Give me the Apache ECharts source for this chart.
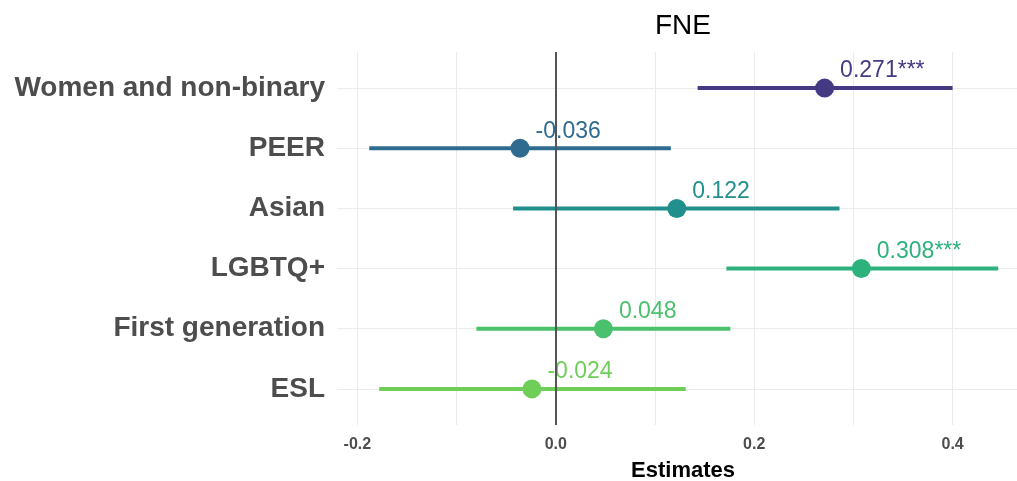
<!DOCTYPE html>
<html>
<head>
<meta charset="utf-8">
<script src="https://cdn.jsdelivr.net/npm/echarts@6/dist/echarts.min.js"></script>
<style>
html,body{margin:0;padding:0;background:#fff;}
#chart{width:1017px;height:481px;}
</style>
</head>
<body>
<div id="chart"></div>
<script>
// Categories from bottom (position 1) to top (position 6)
const categories = ['ESL', 'First generation', 'LGBTQ+', 'Asian', 'PEER', 'Women and non-binary'];
const estimates  = [-0.024, 0.048, 0.308, 0.122, -0.036, 0.271];
const ciLow      = [-0.178, -0.080, 0.172, -0.043, -0.188, 0.143];
const ciHigh     = [0.131, 0.176, 0.446, 0.286, 0.116, 0.400];
const stars      = ['', '', '***', '', '', '***'];
const colors     = ['#6ece58', '#4ac16d', '#2db27d', '#21908d', '#2f6b8e', '#443a83'];
const xTicks     = [-0.2, -0.1, 0, 0.1, 0.2, 0.3, 0.4];
const xLabels    = [-0.2, 0, 0.2, 0.4];
const yPositions = [1, 2, 3, 4, 5, 6];

const FONT = '"Liberation Sans", Arial, sans-serif';
const chart = echarts.init(document.getElementById('chart'), null, {renderer: 'canvas'});

const barData = categories.map((c, i) => ({value: [ciLow[i], ciHigh[i], yPositions[i]], itemStyle: {color: colors[i]}}));
const dotData = categories.map((c, i) => ({
  value: [estimates[i], yPositions[i]],
  itemStyle: {color: colors[i], opacity: 1},
  label: {color: colors[i], formatter: estimates[i].toFixed(3) + stars[i]}
}));

chart.setOption({
  animation: false,
  backgroundColor: '#ffffff',
  title: {
    text: 'FNE', left: 683, top: 12, padding: 0, textAlign: 'center',
    textStyle: {fontFamily: FONT, fontSize: 28, fontWeight: 'normal', color: '#000'}
  },
  grid: {left: 337, right: -12, top: 52, bottom: 56, containLabel: false, outerBoundsMode: 'none'},
  xAxis: {
    type: 'value', min: -0.2205, max: 0.477,
    name: 'Estimates', nameLocation: 'middle', nameGap: 35,
    nameTextStyle: {fontFamily: FONT, fontSize: 22, fontWeight: 'bold', color: '#000'},
    axisLine: {show: false},
    axisTick: {show: false, customValues: xTicks},
    axisLabel: {
      customValues: xLabels, margin: 12,
      fontFamily: FONT, fontSize: 16, fontWeight: 'bold', color: '#4d4d4d',
      formatter: v => v.toFixed(1)
    },
    splitLine: {show: true, lineStyle: {color: '#ebebeb', width: 1}}
  },
  yAxis: {
    type: 'value', min: 0.4, max: 6.6,
    axisLine: {show: false},
    axisTick: {show: false, customValues: yPositions},
    axisLabel: {
      customValues: yPositions, margin: 12,
      fontFamily: FONT, fontSize: 28, fontWeight: 'bold', color: '#4d4d4d',
      formatter: v => categories[Math.round(v) - 1] || ''
    },
    splitLine: {show: true, lineStyle: {color: '#ebebeb', width: 1.2}}
  },
  series: [
    {
      type: 'custom',
      data: barData,
      encode: {x: [0, 1], y: 2},
      renderItem: function (params, api) {
        const p1 = api.coord([api.value(0), api.value(2)]);
        const p2 = api.coord([api.value(1), api.value(2)]);
        return {
          type: 'line',
          shape: {x1: p1[0], y1: p1[1], x2: p2[0], y2: p2[1]},
          style: {stroke: api.visual('color'), lineWidth: 4}
        };
      },
      markLine: {
        silent: true, symbol: 'none',
        label: {show: false},
        lineStyle: {color: '#555555', width: 2, type: 'solid'},
        data: [{xAxis: 0}]
      },
      z: 2
    },
    {
      type: 'scatter',
      data: dotData,
      symbol: 'circle',
      symbolSize: 19,
      itemStyle: {opacity: 1},
      label: {
        show: true, position: 'right', distance: 6, offset: [0, -17],
        fontFamily: FONT, fontSize: 23
      },
      z: 3
    }
  ]
});
</script>
</body>
</html>
